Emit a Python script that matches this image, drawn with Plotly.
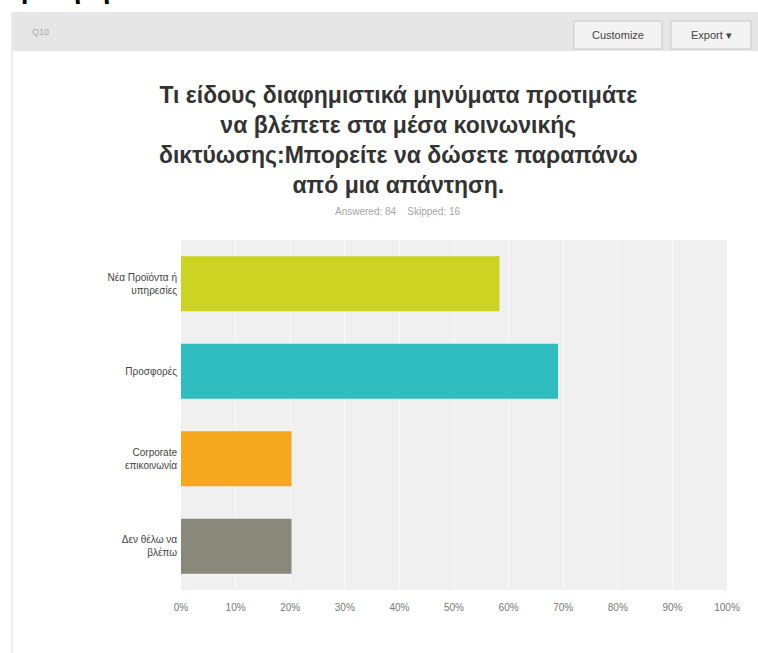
import plotly.graph_objects as go

# Survey question Q10 — share of respondents choosing each kind of ad message
categories = ["Νέα Προϊόντα ή<br>υπηρεσίες", "Προσφορές", "Corporate<br>επικοινωνία", "Δεν θέλω να<br>βλέπω"]
percent = [58.33, 69.05, 20.24, 20.24]
bar_colors = ["#CDD322", "#2FBDC0", "#F5A71E", "#88897B"]
tick_values = [0, 10, 20, 30, 40, 50, 60, 70, 80, 90, 100]
tick_text = [f"{v}%" for v in tick_values]

title_text = ("Τι είδους διαφημιστικά μηνύματα προτιμάτε<br>να βλέπετε στα μέσα κοινωνικής<br>"
              "δικτύωσης:Μπορείτε να δώσετε παραπάνω<br>από μια απάντηση.")
answered, skipped = 84, 16

W, H = 758, 653
L, R, T, B = 181, 727, 240, 590  # plot area in pixels


def px(x):
    return (x - L) / (R - L)


def py(y):
    return (B - y) / (B - T)


fig = go.Figure(go.Bar(
    x=percent,
    y=categories,
    orientation="h",
    marker=dict(color=bar_colors, line=dict(width=0)),
    width=0.63,
    hoverinfo="x+y",
))

shapes = [
    # card outline on the left
    dict(type="line", xref="paper", yref="paper", x0=px(12), x1=px(12), y0=py(12), y1=py(653),
         line=dict(color="#DDDDDD", width=1), layer="below"),
    # header strip
    dict(type="rect", xref="paper", yref="paper", x0=px(12), x1=px(760), y0=py(12), y1=py(51),
         fillcolor="#E6E6E6", line=dict(width=0), layer="below"),
    # buttons
    dict(type="rect", xref="paper", yref="paper", x0=px(574), x1=px(662), y0=py(21), y1=py(49),
         fillcolor="#F3F3F3", line=dict(color="#C8C8C8", width=1), layer="below"),
    dict(type="rect", xref="paper", yref="paper", x0=px(671), x1=px(751), y0=py(21), y1=py(49),
         fillcolor="#F3F3F3", line=dict(color="#C8C8C8", width=1), layer="below"),
]

annotations = [
    dict(text="<b>Ερώτηση 10 :</b>", xref="paper", yref="paper", x=px(2), y=py(-9),
         xanchor="left", yanchor="middle", showarrow=False,
         font=dict(family="Liberation Serif", size=26, color="#000000")),
    dict(text="Q10", xref="paper", yref="paper", x=px(30), y=py(32),
         xanchor="left", yanchor="middle", showarrow=False,
         font=dict(family="Liberation Sans", size=9, color="#AAAAAA")),
    dict(text="Customize", xref="paper", yref="paper", x=px(618), y=py(35),
         xanchor="center", yanchor="middle", showarrow=False,
         font=dict(family="Liberation Sans", size=11, color="#444444")),
    dict(text="Export ▾", xref="paper", yref="paper", x=px(711), y=py(35),
         xanchor="center", yanchor="middle", showarrow=False,
         font=dict(family="Liberation Sans", size=11, color="#444444")),
    dict(text=f"<b>{title_text}</b>", xref="paper", yref="paper", x=px(398), y=py(140),
         xanchor="center", yanchor="middle", showarrow=False, align="center",
         font=dict(family="Liberation Sans", size=23, color="#333333")),
    dict(text=f"Answered: {answered}    Skipped: {skipped}", xref="paper", yref="paper",
         x=px(398), y=py(212), xanchor="center", yanchor="middle", showarrow=False,
         font=dict(family="Liberation Sans", size=10, color="#A5A5A5")),
]

fig.update_layout(
    width=W, height=H,
    margin=dict(l=L, r=W - R, t=T, b=H - B, pad=0),
    paper_bgcolor="#FFFFFF",
    plot_bgcolor="#F0F0F0",
    showlegend=False,
    shapes=shapes,
    annotations=annotations,
    xaxis=dict(range=[0, 100], tickvals=tick_values, ticktext=tick_text,
               showgrid=True, gridcolor="#FAFAFA", gridwidth=1, zeroline=False,
               showline=False, ticks="", ticklabelstandoff=10, fixedrange=True,
               tickfont=dict(family="Liberation Sans", size=10, color="#777777")),
    yaxis=dict(autorange="reversed", showgrid=False, zeroline=False, showline=False,
               ticks="", ticklabelstandoff=3, fixedrange=True,
               tickfont=dict(family="Liberation Sans", size=10, color="#444444")),
    bargap=0.37,
)

fig.write_html("out.html")
